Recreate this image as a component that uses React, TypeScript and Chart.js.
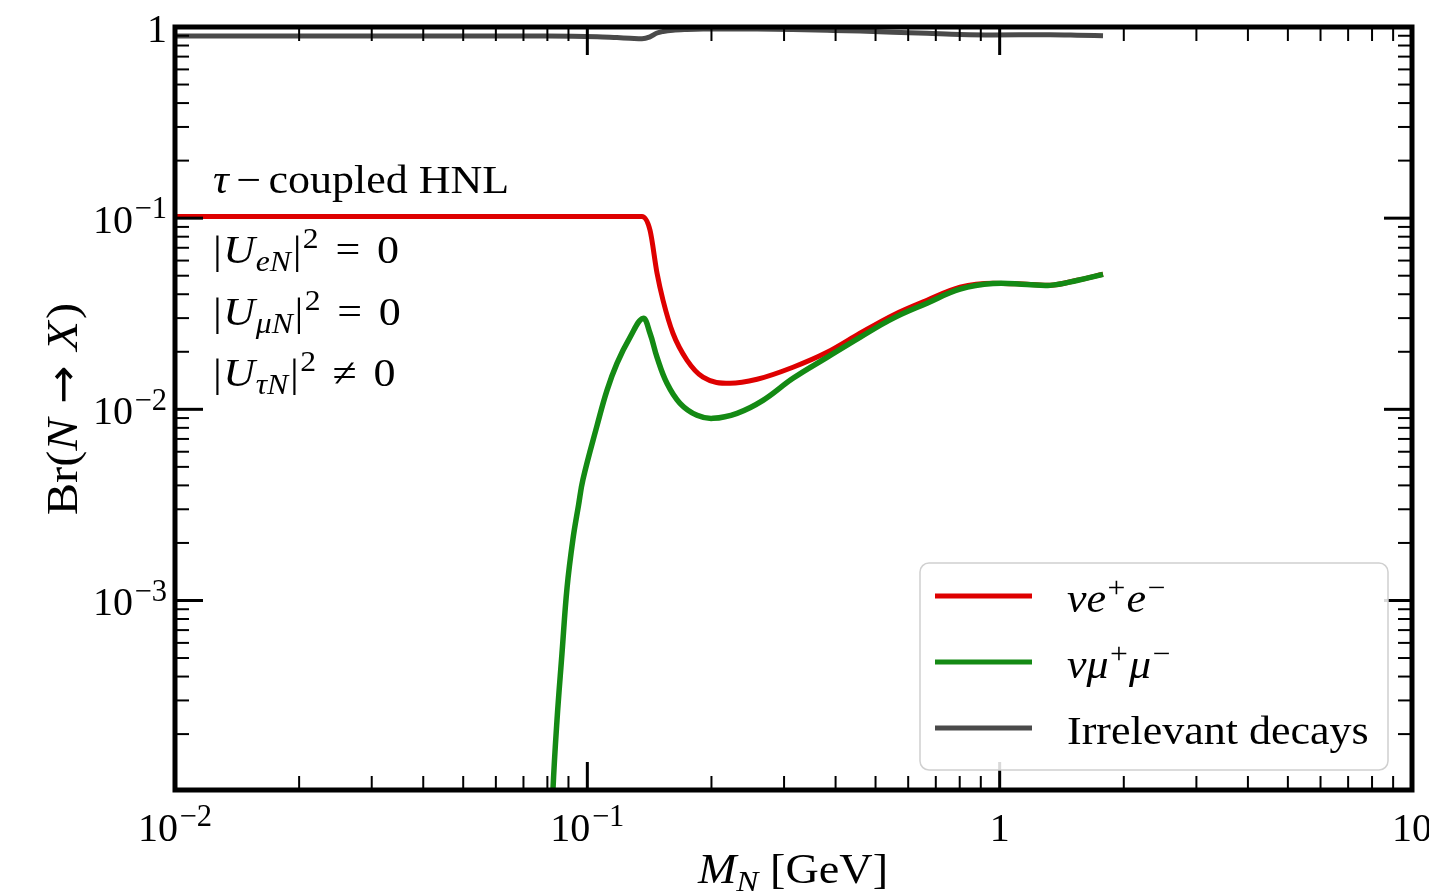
import React, { useEffect, useRef } from "react";
import { Chart, registerables } from "chart.js";
Chart.register(...registerables);

// ---------- data ----------
const massEE = [0.01, 0.05, 0.1, 0.1357, 0.1419, 0.1476, 0.1526, 0.1613, 0.1744, 0.1908, 0.2218, 0.258, 0.3153, 0.3814, 0.4584, 0.5511, 0.6665, 0.8013, 0.9634, 1.165, 1.325, 1.54, 1.781];
const brEE = [0.102, 0.102, 0.102, 0.102, 0.0865, 0.0515, 0.0372, 0.025, 0.0181, 0.01472, 0.01368, 0.01436, 0.0166, 0.01987, 0.025, 0.0311, 0.0372, 0.0435, 0.0457, 0.0451, 0.0446, 0.0473, 0.0509];

const massMuMu = [0.0818, 0.0825, 0.0844, 0.0868, 0.0893, 0.0923, 0.0952, 0.0976, 0.1056, 0.1116, 0.118, 0.1269, 0.1365, 0.1419, 0.1476, 0.156, 0.1678, 0.1845, 0.2017, 0.2307, 0.2667, 0.3153, 0.3814, 0.4584, 0.5511, 0.6665, 0.8013, 0.9634, 1.165, 1.325, 1.54, 1.781];
const brMuMu = [5e-5, 1.0e-4, 2.35e-4, 5.28e-4, 1.17e-3, 2.1e-3, 3.15e-3, 4.3e-3, 8.24e-3, 0.01257, 0.0174, 0.0238, 0.0299, 0.025, 0.0187, 0.01368, 0.01075, 0.0093, 0.00897, 0.00953, 0.01114, 0.01453, 0.0187, 0.0238, 0.0299, 0.0359, 0.0425, 0.0455, 0.045, 0.0445, 0.0472, 0.0508];

const massOther = [0.01, 0.05, 0.08, 0.1056, 0.118, 0.1269, 0.1357, 0.1419, 0.1476, 0.1526, 0.1613, 0.1744, 0.1908, 0.2218, 0.258, 0.3153, 0.3814, 0.4584, 0.5511, 0.6665, 0.8013, 0.9634, 1.165, 1.325, 1.54, 1.781];
const brOther = [0.898, 0.898, 0.898, 0.89, 0.88, 0.874, 0.868, 0.8885, 0.93, 0.947, 0.9625, 0.971, 0.976, 0.977, 0.975, 0.969, 0.961, 0.952, 0.939, 0.927, 0.914, 0.909, 0.91, 0.911, 0.906, 0.899];

const xTickValues = [0.01, 0.1, 1, 10];
const xTickLabels: [string, string][] = [["10", "−2"], ["10", "−1"], ["1", ""], ["10", ""]];
const yTickValues = [1, 0.1, 0.01, 0.001];
const yTickLabels: [string, string][] = [["1", ""], ["10", "−1"], ["10", "−2"], ["10", "−3"]];

const seriesNames = ["νe⁺e⁻", "νμ⁺μ⁻", "Irrelevant decays"];
const seriesColors = ["#de0000", "#148a14", "#4a4a4a"];

// ---------- rich text helpers ----------
type Seg = { t: string; i?: boolean; s?: "sup" | "sub"; g?: number; f?: string; k?: number };
const FONT = "'Liberation Serif', 'Times New Roman', serif";
const segFont = (seg: Seg, size: number) =>
  `${seg.i ? "italic " : ""}${(seg.s ? size * 0.72 : size) * (seg.k || 1)}px ${seg.f || FONT}`;

function richWidth(ctx: CanvasRenderingContext2D, segs: Seg[], size: number) {
  let w = 0;
  for (const s of segs) {
    ctx.font = segFont(s, size);
    w += ctx.measureText(s.t).width + (s.g || 0) * size;
  }
  return w;
}

function drawRich(
  ctx: CanvasRenderingContext2D,
  segs: Seg[],
  x: number,
  y: number,
  size: number,
  align: "left" | "center" | "right",
  stretch = 1
) {
  const w = richWidth(ctx, segs, size) * stretch;
  const x0 = align === "left" ? x : align === "center" ? x - w / 2 : x - w;
  ctx.save();
  ctx.translate(x0, y);
  ctx.scale(stretch, 1);
  ctx.textAlign = "left";
  ctx.textBaseline = "alphabetic";
  let pos = 0;
  for (const s of segs) {
    pos += (s.g || 0) * size;
    ctx.font = segFont(s, size);
    const dy = s.s === "sup" ? -size * 0.37 : s.s === "sub" ? size * 0.2 : 0;
    ctx.fillText(s.t, pos, dy);
    pos += ctx.measureText(s.t).width;
  }
  ctx.restore();
}

const tickSegs = (l: [string, string]): Seg[] =>
  l[1] ? [{ t: l[0] }, { t: l[1], s: "sup", g: 0.04, k: 1.06 }] : [{ t: l[0] }];

const legendSegs: Seg[][] = [
  [{ t: "ν", i: true }, { t: "e", i: true }, { t: "+", s: "sup", g: 0.03 }, { t: "e", i: true, g: 0.03 }, { t: "−", s: "sup", g: 0.03 }],
  [{ t: "ν", i: true }, { t: "μ", i: true }, { t: "+", s: "sup", g: 0.03 }, { t: "μ", i: true, g: 0.03 }, { t: "−", s: "sup", g: 0.03 }],
  [{ t: "Irrelevant decays" }],
];

const couplingLine = (sub: string, rel: string): Seg[] => [
  { t: "|" },
  { t: "U", i: true, g: 0.03 },
  { t: sub, i: true, s: "sub", g: 0.02 },
  { t: "|", g: 0.04 },
  { t: "2", s: "sup", g: 0.03 },
  { t: rel, g: 0.38 },
  { t: "0", g: 0.38 },
];

const frame = {
  id: "frame",
  afterDatasetsDraw(chart: any) {
    const { ctx, chartArea: a, scales } = chart;
    const xs = scales.x;
    const ys = scales.y;
    const size = 40;
    const STR = 1.1;
    ctx.save();
    ctx.strokeStyle = "#000";
    ctx.fillStyle = "#000";
    ctx.lineCap = "butt";
    const line = (x1: number, y1: number, x2: number, y2: number, w: number) => {
      ctx.lineWidth = w;
      ctx.beginPath();
      ctx.moveTo(x1, y1);
      ctx.lineTo(x2, y2);
      ctx.stroke();
    };
    const MAJ = 28, MIN = 14;
    // x ticks
    for (let k = -2; k <= 0; k++) {
      for (let m = 2; m <= 9; m++) {
        const px = xs.getPixelForValue(m * Math.pow(10, k));
        line(px, a.bottom, px, a.bottom - MIN, 2);
        line(px, a.top, px, a.top + MIN, 2);
      }
    }
    xTickValues.forEach((v) => {
      const px = xs.getPixelForValue(v);
      line(px, a.bottom, px, a.bottom - MAJ, 3);
      line(px, a.top, px, a.top + MAJ, 3);
    });
    // y ticks
    for (let k = -4; k <= -1; k++) {
      for (let m = 2; m <= 9; m++) {
        const v = m * Math.pow(10, k);
        if (v < ys.min) continue;
        const py = ys.getPixelForValue(v);
        line(a.left, py, a.left + MIN, py, 2);
        line(a.right, py, a.right - MIN, py, 2);
      }
    }
    yTickValues.forEach((v) => {
      const py = ys.getPixelForValue(v);
      line(a.left, py, a.left + MAJ, py, 3);
      line(a.right, py, a.right - MAJ, py, 3);
    });
    // spines
    ctx.lineWidth = 5;
    ctx.strokeRect(a.left, a.top, a.right - a.left, a.bottom - a.top);

    // tick labels
    xTickValues.forEach((v, i) => {
      drawRich(ctx, tickSegs(xTickLabels[i]), xs.getPixelForValue(v), a.bottom + 51, size, "center");
    });
    yTickValues.forEach((v, i) => {
      drawRich(ctx, tickSegs(yTickLabels[i]), a.left - 8, ys.getPixelForValue(v) + 15, size, "right");
    });

    // axis titles
    drawRich(ctx, [{ t: "M", i: true }, { t: "N", i: true, s: "sub" }, { t: " [GeV]" }], 793, 883, 42, "center", STR);
    ctx.save();
    ctx.translate(77, 409);
    ctx.rotate(-Math.PI / 2);
    drawRich(
      ctx,
      [
        { t: "Br(" },
        { t: "N", i: true },
        { t: "→", f: "'DejaVu Sans', sans-serif", g: 0.3, k: 0.95 },
        { t: "X", i: true, g: 0.3 },
        { t: ")", g: 0.05 },
      ],
      0,
      0,
      44,
      "center",
      STR
    );
    ctx.restore();

    // annotation
    const ax = 213;
    drawRich(ctx, [{ t: "τ", i: true }, { t: "−", g: 0.17 }, { t: "coupled HNL", g: 0.17 }], ax, 193, size, "left", STR);
    drawRich(ctx, couplingLine("eN", "="), ax, 263, size, "left", STR);
    drawRich(ctx, couplingLine("μN", "="), ax, 325, size, "left", STR);
    drawRich(ctx, couplingLine("τN", "≠"), ax, 386, size, "left", STR);

    // legend
    const lx = 920, ly = 563, lw = 468, lh = 207, r = 9;
    ctx.beginPath();
    ctx.moveTo(lx + r, ly);
    ctx.arcTo(lx + lw, ly, lx + lw, ly + lh, r);
    ctx.arcTo(lx + lw, ly + lh, lx, ly + lh, r);
    ctx.arcTo(lx, ly + lh, lx, ly, r);
    ctx.arcTo(lx, ly, lx + lw, ly, r);
    ctx.closePath();
    ctx.fillStyle = "rgba(255,255,255,0.85)";
    ctx.fill();
    ctx.strokeStyle = "#d0d0d0";
    ctx.lineWidth = 1.5;
    ctx.stroke();
    const rows = [596, 662, 728];
    seriesNames.forEach((_, i) => {
      ctx.strokeStyle = seriesColors[i];
      line(935, rows[i], 1032, rows[i], 5);
      ctx.fillStyle = "#000";
      drawRich(ctx, legendSegs[i], 1067, rows[i] + 16, size, "left", STR);
    });
    ctx.restore();
  },
};

export default function App() {
  const ref = useRef<HTMLCanvasElement>(null);
  useEffect(() => {
    document.body.style.margin = "0";
    const pts = (xs: number[], ys: number[]) => xs.map((x, i) => ({ x, y: ys[i] }));
    const chart = new Chart(ref.current!, {
      type: "line",
      data: {
        datasets: [
          { label: seriesNames[0], data: pts(massEE, brEE), borderColor: seriesColors[0], borderWidth: 5, order: 2, cubicInterpolationMode: "monotone" },
          { label: seriesNames[1], data: pts(massMuMu, brMuMu), borderColor: seriesColors[1], borderWidth: 5.5, order: 1, tension: 0.4 },
          { label: seriesNames[2], data: pts(massOther, brOther), borderColor: seriesColors[2], borderWidth: 5, order: 0, cubicInterpolationMode: "monotone" },
        ],
      },
      options: {
        responsive: false,
        animation: false,
        layout: { padding: { left: 175, right: 17, top: 27, bottom: 103 } },
        datasets: { line: { pointRadius: 0, fill: false } },
        plugins: { legend: { display: false }, tooltip: { enabled: false } },
        scales: {
          x: { type: "logarithmic", min: 0.01, max: 10, display: false },
          y: { type: "logarithmic", min: 1.02e-4, max: 1, display: false },
        },
      } as any,
      plugins: [frame],
    });
    return () => chart.destroy();
  }, []);
  return <canvas ref={ref} width={1429} height={893} style={{ display: "block" }} />;
}
